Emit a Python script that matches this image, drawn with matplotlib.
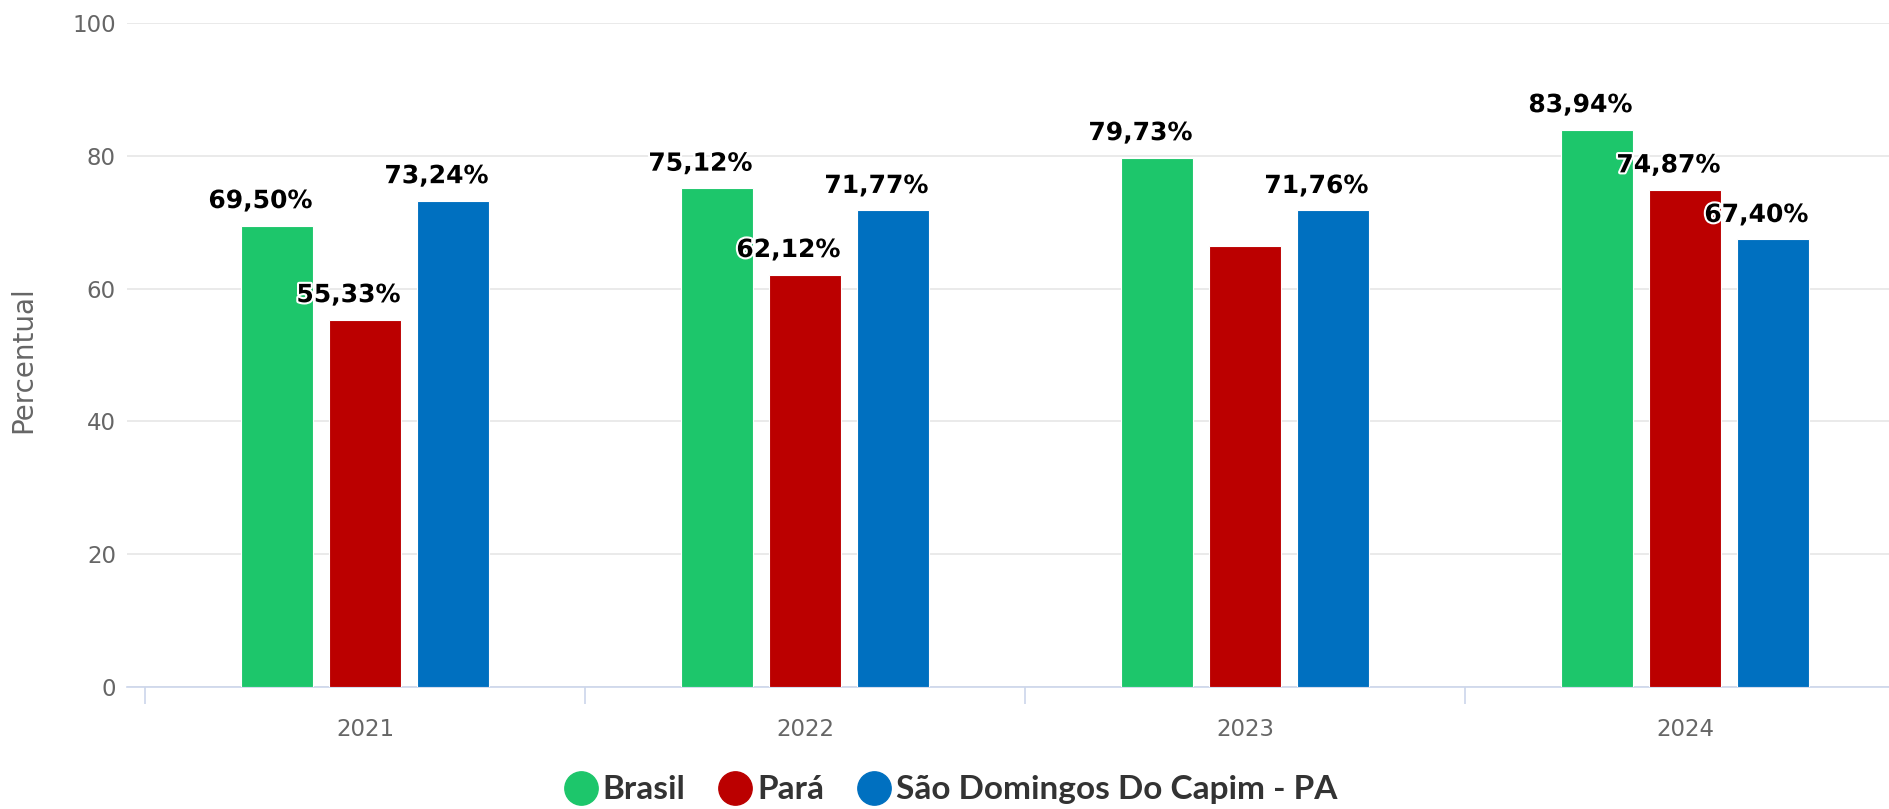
from matplotlib import pyplot as plt
from matplotlib.lines import Line2D
import matplotlib.patheffects as pe
import numpy as np

plt.rcParams['font.family'] = ['DejaVu Sans']

years = ["2021", "2022", "2023", "2024"]
series_names = ["Brasil", "Pará", "São Domingos Do Capim - PA"]
brasil = [69.50, 75.12, 79.73, 83.94]
para = [55.33, 62.12, 66.42, 74.87]
sao_domingos = [73.24, 71.77, 71.76, 67.40]
# which labels are shown (Pará 2023 label is hidden in the original)
show_labels = [
	[True, True, True, True],
	[True, True, False, True],
	[True, True, True, True],
]
colors = ["#1dc66b", "#bb0000", "#0070c0"]

fig = plt.figure(figsize=(18.9, 8.09), dpi=100)
ax = fig.add_axes([0.0672, 0.1508, 0.9328, 0.8208])

x = np.arange(len(years))
width = 0.164
offsets = [-0.2, 0.0, 0.2]

for i, vals in enumerate([brasil, para, sao_domingos]):
	ax.bar(x + offsets[i], vals, width=width, color=colors[i], edgecolor="white", linewidth=0.8, zorder=3)
	for j, v in enumerate(vals):
		if not show_labels[i][j]:
			continue
		txt = f"{v:.2f}".replace(".", ",") + "%"
		ax.annotate(txt, (x[j] + offsets[i], v), xytext=(-12, 9), textcoords="offset points",
			ha="center", va="bottom", fontsize=18, fontweight="bold", color="black", zorder=5,
			path_effects=[pe.withStroke(linewidth=3, foreground="white")])

ax.set_ylim(0, 100)
ax.set_xlim(-0.541, 3.466)
ax.set_yticks([0, 20, 40, 60, 80, 100])
ax.yaxis.grid(True, color="#e6e6e6", linewidth=1.2, zorder=0)
ax.tick_params(axis="y", length=0, labelsize=16.5, labelcolor="#666666", pad=8)

ax.set_xticks([-0.5, 0.5, 1.5, 2.5])
ax.set_xticklabels([])
ax.set_xticks(x, minor=True)
ax.set_xticklabels(years, minor=True)
ax.tick_params(axis="x", which="major", length=12, color="#ccd6eb", width=1.2)
ax.tick_params(axis="x", which="minor", length=0, labelsize=16.5, labelcolor="#666666", pad=22)

for side in ["top", "right", "left"]:
	ax.spines[side].set_visible(False)
ax.spines["bottom"].set_color("#ccd6eb")
ax.spines["bottom"].set_linewidth(1.2)

ax.set_ylabel("Percentual", fontsize=20, color="#666666", va="center")
ax.yaxis.set_label_coords(23 / 1890, 0.556, transform=fig.transFigure)

handles = [Line2D([0], [0], marker="o", ls="", markersize=24, color=c, label=n) for c, n in zip(colors, series_names)]
leg = fig.legend(handles=handles, loc="center", bbox_to_anchor=(0.503, 0.0235), ncol=3, frameon=False,
	handletextpad=0.15, columnspacing=1.0, handlelength=1.0,
	prop={"family": ["Lato", "DejaVu Sans"], "size": 24, "weight": "bold"})
for t in leg.get_texts():
	t.set_color("#333333")

fig.savefig("out.png", dpi=100)
